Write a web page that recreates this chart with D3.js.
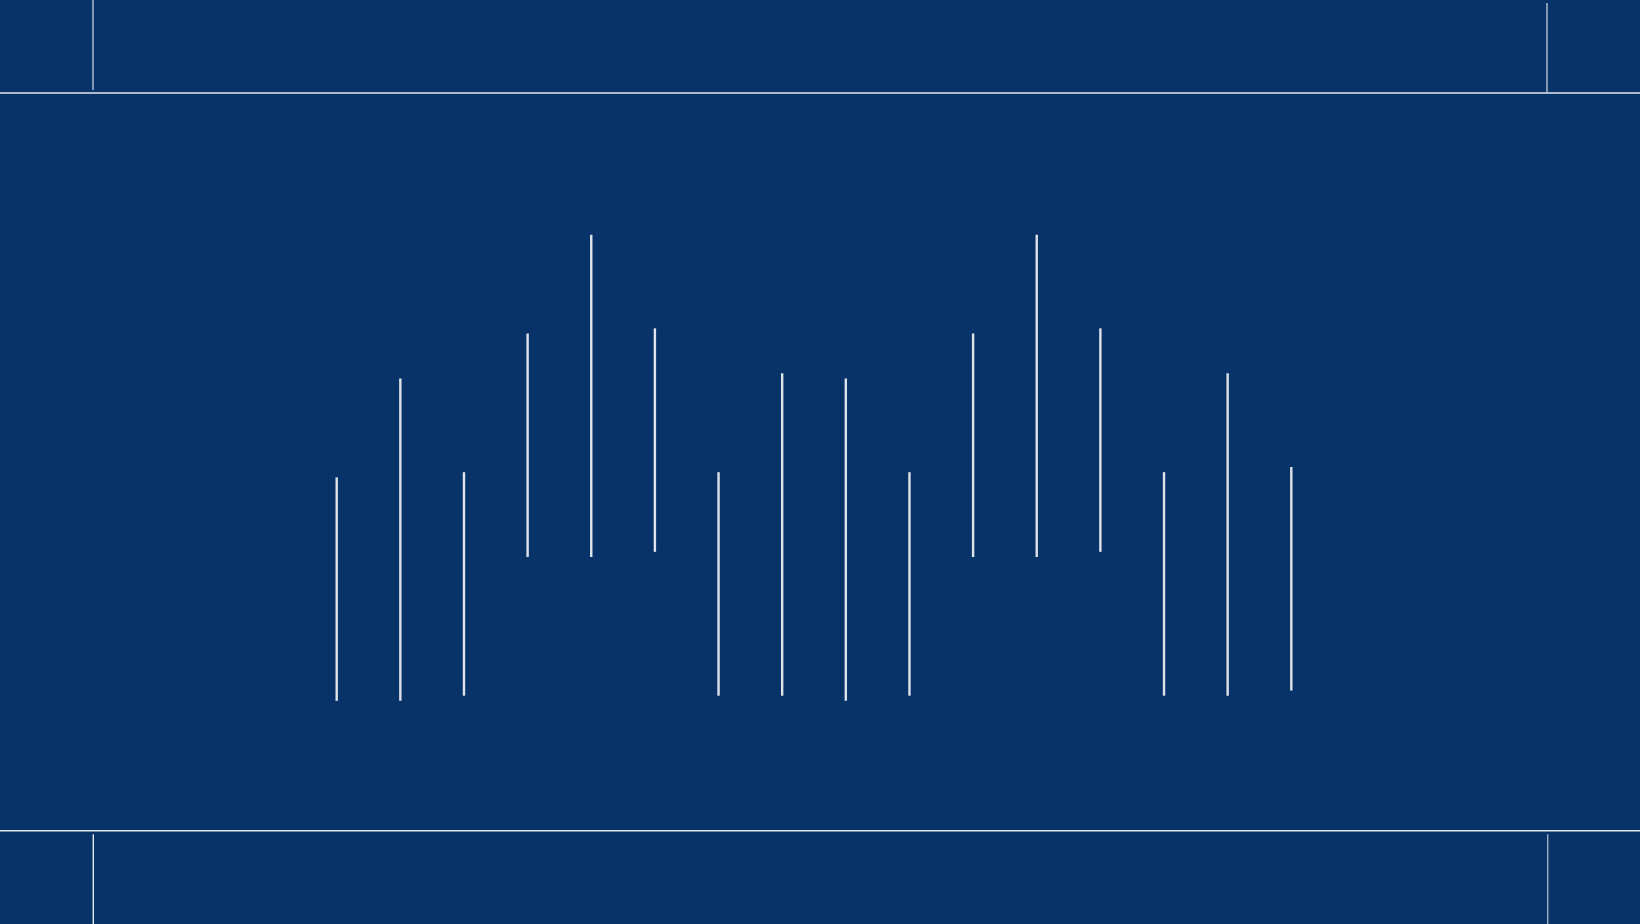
<!DOCTYPE html>
<html>
<head>
<meta charset="utf-8">
<script src="https://cdn.jsdelivr.net/npm/d3@7"></script>
<style>
  html, body { margin: 0; padding: 0; background: #083368; overflow: hidden; }
  svg { display: block; }
</style>
</head>
<body>
<div id="chart"></div>
<script>
// Chart size
const width = 1640;
const height = 924;

// Data: one vertical range per category (low / high values)
const categories = ["1", "2", "3", "4", "5", "6", "7", "8", "9", "10", "11", "12", "13", "14", "15", "16"];
const lowValues  = [17.6, 17.6, 18.3, 37.1, 37.1, 37.8, 18.3, 18.3, 17.6, 18.3, 37.1, 37.1, 37.8, 18.3, 18.3, 19.0];
const highValues = [47.9, 61.3, 48.6, 67.4, 80.8, 68.1, 48.6, 62.0, 61.3, 48.6, 67.4, 80.8, 68.1, 48.6, 62.0, 49.3];

// Frame (crop-mark style) positions
const frameTop = 93;
const frameBottom = 830.7;
const frameLeft = 93;
const frameRight = 1547;

const svg = d3.select("#chart")
              .append("svg")
              .attr("width", width)
              .attr("height", height);

svg.append("rect")
   .attr("width", width)
   .attr("height", height)
   .attr("fill", "#083368");

// Scales
const x = d3.scalePoint()
            .domain(categories)
            .range([336.7, 1291.3]);

const y = d3.scaleLinear()
            .domain([0, 100])
            .range([frameBottom, frameTop]);

// Frame lines
const frame = svg.append("g")
                 .attr("stroke", "#e4e8ef")
                 .attr("stroke-width", 1.4)
                 .attr("fill", "none");

frame.append("line")
     .attr("x1", 0).attr("x2", width)
     .attr("y1", frameTop).attr("y2", frameTop);

frame.append("line")
     .attr("x1", 0).attr("x2", width)
     .attr("y1", frameBottom).attr("y2", frameBottom);

// Top-left and top-right ticks
frame.append("line")
     .attr("x1", frameLeft).attr("x2", frameLeft)
     .attr("y1", 0).attr("y2", frameTop - 3)
     .attr("stroke", "#b9c3d2");
frame.append("line")
     .attr("x1", frameRight).attr("x2", frameRight)
     .attr("y1", 3).attr("y2", frameTop)
     .attr("stroke", "#b9c3d2");

// Bottom-left and bottom-right ticks
frame.append("line")
     .attr("x1", frameLeft + 0.3).attr("x2", frameLeft + 0.3)
     .attr("y1", frameBottom + 3.5).attr("y2", height);
frame.append("line")
     .attr("x1", frameRight + 0.7).attr("x2", frameRight + 0.7)
     .attr("y1", frameBottom + 3.5).attr("y2", height)
     .attr("stroke", "#9fadc2");

// Range lines
const data = categories.map((c, i) => ({ cat: c, low: lowValues[i], high: highValues[i] }));

svg.append("g")
   .attr("stroke", "#dfe3ea")
   .attr("stroke-width", 2.4)
   .selectAll("line")
   .data(data)
   .enter().append("line")
   .attr("x1", d => x(d.cat))
   .attr("x2", d => x(d.cat))
   .attr("y1", d => y(d.low))
   .attr("y2", d => y(d.high));
</script>
</body>
</html>
